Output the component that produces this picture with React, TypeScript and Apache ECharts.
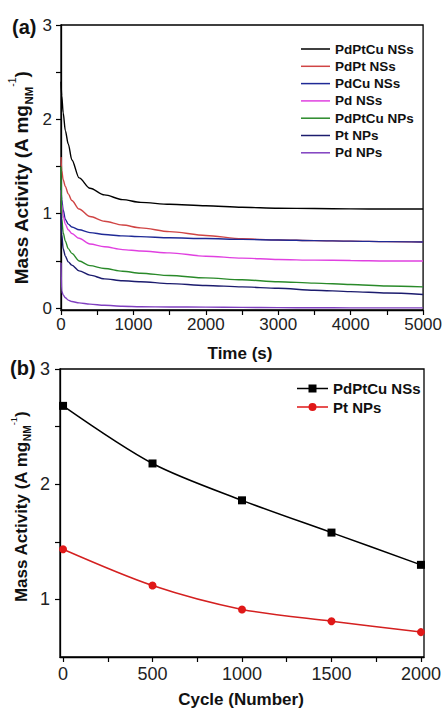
import React, { useEffect, useRef } from "react";
import * as echarts from "echarts";

const timeS = [0, 10, 30, 60, 100, 150, 250, 400, 600, 850, 1100, 1500, 2000, 2500, 3000, 3500, 4000, 4500, 5000];
const seriesNamesA = ["PdPtCu NSs", "PdPt NSs", "PdCu NSs", "Pd NSs", "PdPtCu NPs", "Pt NPs", "Pd NPs"];
const pdptcuNSs = [2.4, 2.25, 2.07, 1.88, 1.74, 1.57, 1.38, 1.27, 1.2, 1.15, 1.12, 1.1, 1.085, 1.068, 1.058, 1.055, 1.052, 1.05, 1.05];
const pdptNSs = [1.6, 1.46, 1.36, 1.29, 1.21, 1.14, 1.05, 0.97, 0.92, 0.88, 0.85, 0.81, 0.77, 0.735, 0.722, 0.715, 0.71, 0.705, 0.7];
const pdcuNSs = [1.28, 1.15, 1.04, 0.94, 0.89, 0.86, 0.83, 0.8, 0.78, 0.765, 0.757, 0.745, 0.737, 0.728, 0.722, 0.715, 0.71, 0.705, 0.7];
const pdNSs = [1.25, 1.1, 0.98, 0.89, 0.83, 0.79, 0.74, 0.68, 0.65, 0.62, 0.605, 0.585, 0.55, 0.53, 0.515, 0.508, 0.505, 0.5, 0.5];
const pdptcuNPs = [1.5, 0.95, 0.8, 0.71, 0.63, 0.58, 0.5, 0.45, 0.42, 0.39, 0.37, 0.345, 0.32, 0.3, 0.28, 0.265, 0.25, 0.235, 0.225];
const ptNPs = [1.0, 0.78, 0.63, 0.55, 0.49, 0.455, 0.395, 0.35, 0.31, 0.29, 0.28, 0.26, 0.24, 0.225, 0.21, 0.19, 0.175, 0.16, 0.145];
const pdNPs = [0.48, 0.18, 0.14, 0.11, 0.085, 0.07, 0.055, 0.042, 0.03, 0.02, 0.015, 0.012, 0.01, 0.008, 0.005, 0.004, 0.003, 0.002, 0.002];
const colorsA = ["#000000", "#d04545", "#1f2a96", "#e040e0", "#2a8a2a", "#1c1c6e", "#8040c0"];

const cycles = [0, 500, 1000, 1500, 2000];
const seriesNamesB = ["PdPtCu NSs", "Pt NPs"];
const cycPdPtCuNSs = [2.68, 2.18, 1.86, 1.58, 1.3];
const cycPtNPs = [1.435, 1.12, 0.913, 0.81, 0.716];

const yTicksA = [0, 0.5, 1, 1.5, 2, 2.5, 3];
const yLabelsA = [0, 1, 2, 3];
const yTicksB = [1, 1.5, 2, 2.5, 3];
const yLabelsB = [1, 2, 3];
const xTicksB = [0, 250, 500, 750, 1000, 1250, 1500, 1750, 2000];
const xLabelsB = [0, 500, 1000, 1500, 2000];

const FONT = "Arial, 'Liberation Sans', sans-serif";

const ICON_SQUARE = "path://M0,3.3H11.5V4.7H0Z M19.5,3.3H31V4.7H19.5Z M11.5,0H19.5V8H11.5Z";
const ICON_CIRCLE = "path://M0,3.3H11.6V4.7H0Z M19.4,3.3H31V4.7H19.4Z M11.5,4A4,4 0 0,1 19.5,4A4,4 0 0,1 11.5,4Z";

export default function App() {
  const ref = useRef<HTMLDivElement>(null);
  useEffect(() => {
    if (!ref.current) return;
    const chart = echarts.init(ref.current, null, { renderer: "svg" });
    const seriesA = [pdptcuNSs, pdptNSs, pdcuNSs, pdNSs, pdptcuNPs, ptNPs, pdNPs];
    const axisLine = { show: true, onZero: false, lineStyle: { color: "#000", width: 1.3 } };
    const tick = { show: true, length: 5, lineStyle: { color: "#000", width: 1.2 } };
    const lbl = (size: number, margin: number) => ({ color: "#222", fontSize: size, fontFamily: FONT, margin });
    const richTitle = (size: number) => ({
      x: 0,
      y: 0,
      text: "{b|Mass Activity (A mg}{s|NM}{p|-1}{b|)}",
      font: `bold ${size}px ${FONT}`,
      fill: "#111",
      align: "center",
      verticalAlign: "middle",
      rich: {
        b: { fontSize: size, fontWeight: "bold", fontFamily: FONT, lineHeight: size * 1.4, fill: "#111" },
        s: { fontSize: size * 0.6, fontWeight: "bold", fontFamily: FONT, verticalAlign: "bottom", lineHeight: size * 1.4, fill: "#111" },
        p: { fontSize: size * 0.55, fontWeight: "normal", fontFamily: FONT, verticalAlign: "top", lineHeight: size * 1.4, fill: "#111" },
      },
    });
    const option: any = {
      animation: false,
      backgroundColor: "#fff",
      grid: [
        { left: 61, top: 25, width: 364, height: 285, show: true, borderColor: "#000", borderWidth: 1.3, backgroundColor: "transparent" },
        { left: 60, top: 369, width: 364, height: 288, show: true, borderColor: "#000", borderWidth: 1.3, backgroundColor: "transparent" },
      ],
      xAxis: [
        {
          type: "value", gridIndex: 0, min: 0, max: 5000, interval: 500,
          axisLine, axisTick: tick, splitLine: { show: false },
          axisLabel: { ...lbl(17, 6), formatter: (v: number) => (v % 1000 === 0 ? String(v) : "") },
        },
        {
          type: "value", gridIndex: 1, min: -17, max: 2017,
          axisLine, axisTick: { ...tick, customValues: xTicksB }, splitLine: { show: false },
          axisLabel: { ...lbl(18, 8), customValues: xLabelsB, formatter: (v: number) => String(v) },
        },
      ],
      yAxis: [
        {
          type: "value", gridIndex: 0, min: -0.02, max: 3,
          axisLine, axisTick: { ...tick, customValues: yTicksA }, splitLine: { show: false },
          axisLabel: { ...lbl(17, 9), customValues: yLabelsA, formatter: (v: number) => String(v) },
        },
        {
          type: "value", gridIndex: 1, min: 0.5, max: 3,
          axisLine, axisTick: { ...tick, customValues: yTicksB }, splitLine: { show: false },
          axisLabel: { ...lbl(18, 10), customValues: yLabelsB, formatter: (v: number) => String(v) },
        },
      ],
      legend: [
        {
          orient: "vertical", left: 296, top: 37, itemWidth: 29, itemHeight: 1.5, itemGap: 3.3,
          icon: "rect",
          data: seriesNamesA.map((n) => ({ name: n + " " })),
          textStyle: { fontSize: 13.5, fontWeight: "bold", fontFamily: FONT, color: "#111", lineHeight: 14 },
        },
        {
          orient: "vertical", left: 292, top: 376, itemWidth: 31, itemHeight: 8, itemGap: 3.5,
          data: [
            { name: seriesNamesB[0], icon: ICON_SQUARE },
            { name: seriesNamesB[1], icon: ICON_CIRCLE },
          ],
          textStyle: { fontSize: 15, fontWeight: "bold", fontFamily: FONT, color: "#111", lineHeight: 15 },
        },
      ],
      series: [
        ...seriesA.map((vals, i) => ({
          name: seriesNamesA[i] + " ",
          type: "line",
          xAxisIndex: 0,
          yAxisIndex: 0,
          data: timeS.map((t, j) => [t, vals[j]]),
          symbol: "none",
          smooth: 0.3,
          smoothMonotone: "x",
          lineStyle: { color: colorsA[i], width: 1.4 },
          itemStyle: { color: colorsA[i] },
        })),
        {
          name: seriesNamesB[0], type: "line", xAxisIndex: 1, yAxisIndex: 1,
          data: cycles.map((c, j) => [c, cycPdPtCuNSs[j]]),
          symbol: "rect", symbolSize: 8, smooth: 0.3,
          lineStyle: { color: "#000", width: 1.5 }, itemStyle: { color: "#000" },
        },
        {
          name: seriesNamesB[1], type: "line", xAxisIndex: 1, yAxisIndex: 1,
          data: cycles.map((c, j) => [c, cycPtNPs[j]]),
          symbol: "circle", symbolSize: 8, smooth: 0.3,
          lineStyle: { color: "#d42020", width: 1.5 }, itemStyle: { color: "#e01818" },
        },
      ],
      graphic: [
        { type: "text", x: 12, y: 27, style: { text: "(a)", font: `bold 20px ${FONT}`, fill: "#111", verticalAlign: "middle" } },
        { type: "text", x: 10, y: 368, style: { text: "(b)", font: `bold 20px ${FONT}`, fill: "#111", verticalAlign: "middle" } },
        { type: "text", x: 240, y: 353, style: { text: "Time (s)", font: `bold 17px ${FONT}`, fill: "#111", align: "center", verticalAlign: "middle" } },
        { type: "text", x: 241, y: 699, style: { text: "Cycle (Number)", font: `bold 17px ${FONT}`, fill: "#111", align: "center", verticalAlign: "middle" } },
        { type: "text", x: 21, y: 178, rotation: Math.PI / 2, style: richTitle(19) },
        { type: "text", x: 21, y: 507, rotation: Math.PI / 2, style: richTitle(17) },
      ],
    };
    chart.setOption(option);
    return () => chart.dispose();
  }, []);
  return <div ref={ref} style={{ position: "fixed", left: 0, top: 0, width: 445, height: 709, background: "#fff" }} />;
}
